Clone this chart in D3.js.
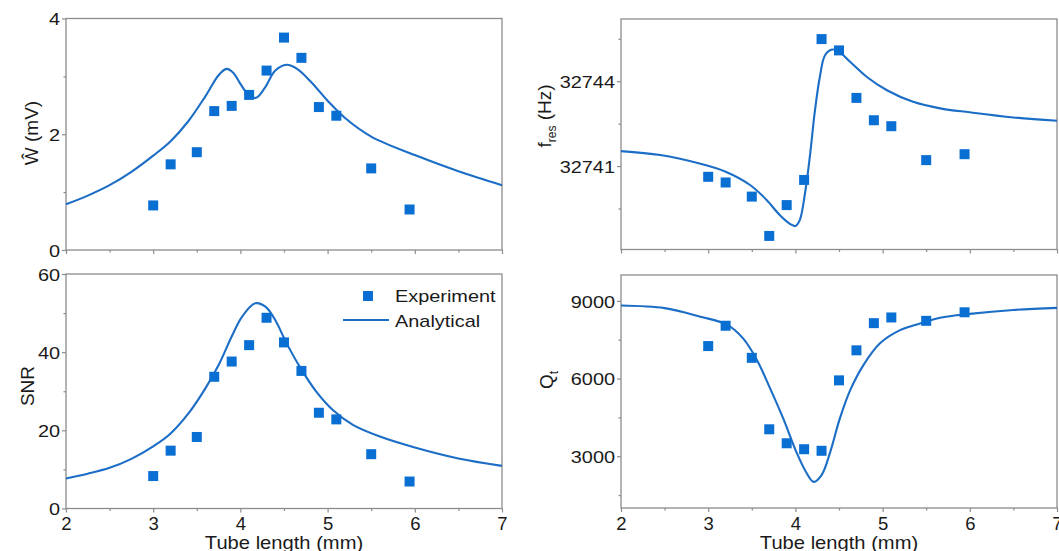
<!DOCTYPE html>
<html><head><meta charset="utf-8">
<script src="https://cdn.jsdelivr.net/npm/d3@7"></script>
<style>
html,body{margin:0;padding:0;background:#fff;}
svg{display:block;font-family:"Liberation Sans",Arial,sans-serif;}
</style></head><body>
<svg id="chart" width="1059" height="551"></svg>
<script>
// ---------- data ----------
const xDomain = [2, 7];
const xTickValues = [2, 3, 4, 5, 6, 7];
const xMinorValues = [2.5, 3.5, 4.5, 5.5, 6.5];

const expX = [3.0, 3.2, 3.5, 3.7, 3.9, 4.1, 4.3, 4.5, 4.7, 4.9, 5.1, 5.5, 5.94];

// Panel 1: W-hat amplitude (mV)
const wDomain = [0, 4];
const wTicks = [0, 2, 4];
const wMinor = [1, 3];
const wExp = [0.77, 1.48, 1.69, 2.40, 2.49, 2.68, 3.10, 3.67, 3.32, 2.47, 2.32, 1.41, 0.70];
const wCurveX = [2.0, 2.25, 2.5, 2.75, 3.0, 3.2, 3.4, 3.6, 3.75, 3.84, 3.92, 4.0, 4.1, 4.18, 4.28, 4.4, 4.53, 4.65, 4.8, 5.0, 5.2, 5.5, 6.0, 6.5, 7.0];
const wCurveY = [0.79, 0.94, 1.12, 1.35, 1.63, 1.88, 2.22, 2.66, 3.02, 3.13, 3.06, 2.87, 2.67, 2.63, 2.80, 3.10, 3.20, 3.13, 2.92, 2.58, 2.28, 1.96, 1.64, 1.36, 1.12];

// Panel 2: resonance frequency (Hz)
const fDomain = [32738.05, 32746.2];
const fTicks = [32741, 32744];
const fMinor = [32739.5, 32742.5, 32745.5];
const fExp = [32740.62, 32740.42, 32739.92, 32738.53, 32739.62, 32740.51, 32745.49, 32745.09, 32743.41, 32742.62, 32742.41, 32741.21, 32741.42];
const fCurveX = [2.0, 2.45, 2.9, 3.2, 3.48, 3.67, 3.82, 3.94, 4.0, 4.05, 4.11, 4.17, 4.22, 4.28, 4.34, 4.42, 4.49, 4.63, 4.82, 5.05, 5.35, 5.66, 6.0, 6.5, 7.0];
const fCurveY = [32741.53, 32741.39, 32741.09, 32740.80, 32740.33, 32739.80, 32739.27, 32738.95, 32738.88, 32739.09, 32740.04, 32741.45, 32742.86, 32744.15, 32744.92, 32745.12, 32745.07, 32744.68, 32744.15, 32743.68, 32743.27, 32743.04, 32742.90, 32742.72, 32742.60];

// Panel 3: SNR
const snrDomain = [0, 60];
const snrTicks = [0, 20, 40, 60];
const snrMinor = [10, 30, 50];
const snrExp = [8.3, 14.8, 18.3, 33.7, 37.6, 41.8, 48.8, 42.5, 35.2, 24.5, 22.8, 13.9, 6.9];
const snrCurveX = [2.0, 2.25, 2.5, 2.75, 3.0, 3.19, 3.42, 3.6, 3.75, 3.9, 4.02, 4.17, 4.29, 4.41, 4.52, 4.68, 4.87, 5.06, 5.29, 5.6, 6.0, 6.5, 7.0];
const snrCurveY = [7.7, 8.9, 10.4, 12.7, 15.9, 19.0, 24.8, 30.8, 36.7, 44.0, 49.1, 52.5, 51.6, 47.8, 42.7, 36.3, 29.9, 25.2, 21.4, 18.4, 15.6, 12.8, 10.9];

// Panel 4: Q_t
const qDomain = [1000, 10000];
const qTicks = [3000, 6000, 9000];
const qMinor = [1500, 4500, 7500];
const qExp = [7255, 8040, 6800, 4040, 3500, 3270, 3210, 5930, 7090, 8140, 8360, 8230, 8560];
const qCurveX = [2.0, 2.5, 2.91, 3.21, 3.40, 3.56, 3.71, 3.86, 4.01, 4.13, 4.21, 4.30, 4.40, 4.51, 4.63, 4.78, 4.97, 5.20, 5.43, 5.66, 6.0, 6.5, 7.0];
const qCurveY = [8820, 8720, 8390, 8090, 7550, 6710, 5620, 4460, 3170, 2340, 2010, 2270, 3170, 4460, 5560, 6520, 7360, 7870, 8130, 8350, 8500, 8650, 8730];

const legendLabels = ["Experiment", "Analytical"];
const xTitle = "Tube length (mm)";

// ---------- style ----------
const markerColor = "#0a6fd3";
const lineColor = "#1b6dc6";
const axisColor = "#8c8c8c";
const textColor = "#1a1a1a";
const stretch = 1.17;

const svg = d3.select("#chart");

const panels = [
  {box:{l:66, r:502, t:18.5, b:250}, dom:wDomain, ticks:wTicks, minor:wMinor, exp:wExp, cx:wCurveX, cy:wCurveY, xLabels:false,
   title:[{t:"Ŵ (mV)"}], titlePos:[31,133]},
  {box:{l:621, r:1057, t:19, b:249.5}, dom:fDomain, ticks:fTicks, minor:fMinor, exp:fExp, cx:fCurveX, cy:fCurveY, xLabels:false,
   title:[{t:"f"},{t:"res", sub:true},{t:" (Hz)", back:true}], titlePos:[544,116]},
  {box:{l:66, r:502, t:274, b:508.5}, dom:snrDomain, ticks:snrTicks, minor:snrMinor, exp:snrExp, cx:snrCurveX, cy:snrCurveY, xLabels:true,
   title:[{t:"SNR"}], titlePos:[27,386]},
  {box:{l:621, r:1057, t:275, b:508}, dom:qDomain, ticks:qTicks, minor:qMinor, exp:qExp, cx:qCurveX, cy:qCurveY, xLabels:true,
   title:[{t:"Q"},{t:"t", sub:true}], titlePos:[546,380]}
];

panels.forEach((p, i) => {
  const {l, r, t, b} = p.box;
  const x = d3.scaleLinear().domain(xDomain).range([l, r]);
  const y = d3.scaleLinear().domain(p.dom).range([b, t]);
  const g = svg.append("g");

  // frame
  g.append("rect").attr("x", l).attr("y", t).attr("width", r - l).attr("height", b - t)
    .attr("fill", "none").attr("stroke", axisColor).attr("stroke-width", 1.3);

  // x axis
  const xa = g.append("g").attr("transform", `translate(0,${b})`)
    .call(d3.axisBottom(x).tickValues(xTickValues).tickSize(4).tickFormat(p.xLabels ? d3.format("d") : () => ""));
  const xm = g.append("g").attr("transform", `translate(0,${b})`)
    .call(d3.axisBottom(x).tickValues(xMinorValues).tickSize(2.5).tickFormat(() => ""));
  // y axis
  const ya = g.append("g").attr("transform", `translate(${l},0)`)
    .call(d3.axisLeft(y).tickValues(p.ticks).tickSize(4).tickFormat(d3.format("d")));
  const ym = g.append("g").attr("transform", `translate(${l},0)`)
    .call(d3.axisLeft(y).tickValues(p.minor).tickSize(2.5).tickFormat(() => ""));

  [xa, xm, ya, ym].forEach(a => {
    a.select(".domain").remove();
    a.selectAll("line").attr("stroke", axisColor).attr("stroke-width", 1.2);
  });
  xa.selectAll("text").attr("font-size", 18.5).attr("fill", textColor)
    .attr("font-family", '"Liberation Sans",Arial,sans-serif')
    .attr("y", 21.5).attr("dy", 0);
  ya.selectAll("text").attr("font-size", 17).attr("fill", textColor)
    .attr("font-family", '"Liberation Sans",Arial,sans-serif')
    .attr("x", -6 / stretch).attr("dy", "0.36em")
    .attr("transform", `scale(${stretch},1)`);

  // analytical line
  const line = d3.line().x((d, k) => x(p.cx[k])).y((d, k) => y(p.cy[k])).curve(d3.curveCatmullRom.alpha(0.5));
  g.append("path").datum(p.cy).attr("d", line)
    .attr("fill", "none").attr("stroke", lineColor).attr("stroke-width", 2.1);

  // experiment squares
  const s = 10;
  g.selectAll("rect.pt").data(p.exp).join("rect").attr("class", "pt")
    .attr("x", (d, k) => x(expX[k]) - s / 2).attr("y", d => y(d) - s / 2)
    .attr("width", s).attr("height", s).attr("fill", markerColor);

  // y title
  const tt = g.append("text")
    .attr("transform", `translate(${p.titlePos[0]},${p.titlePos[1]}) rotate(-90)`)
    .attr("text-anchor", "middle").attr("font-size", 19).attr("fill", textColor).attr("dy", "0.35em");
  p.title.forEach(part => {
    const ts = tt.append("tspan").text(part.t);
    if (part.sub) ts.attr("font-size", 12).attr("dy", 5);
    if (part.back) ts.attr("dy", -5);
  });

  // x title
  if (p.xLabels) {
    g.append("text")
      .attr("transform", `translate(${(l + r) / 2},548.5) scale(1.12,1)`)
      .attr("text-anchor", "middle").attr("font-size", 18).attr("fill", textColor)
      .text(xTitle);
  }
});

// legend (in SNR panel)
const lg = svg.append("g");
lg.append("rect").attr("x", 363).attr("y", 291).attr("width", 10).attr("height", 10).attr("fill", markerColor);
lg.append("line").attr("x1", 343).attr("x2", 389).attr("y1", 320).attr("y2", 320)
  .attr("stroke", lineColor).attr("stroke-width", 2.1);
legendLabels.forEach((lab, k) => {
  lg.append("text")
    .attr("transform", `translate(395,${302 + k * 25}) scale(${stretch},1)`)
    .attr("font-size", 17).attr("fill", textColor).text(lab);
});
</script>
</body></html>
